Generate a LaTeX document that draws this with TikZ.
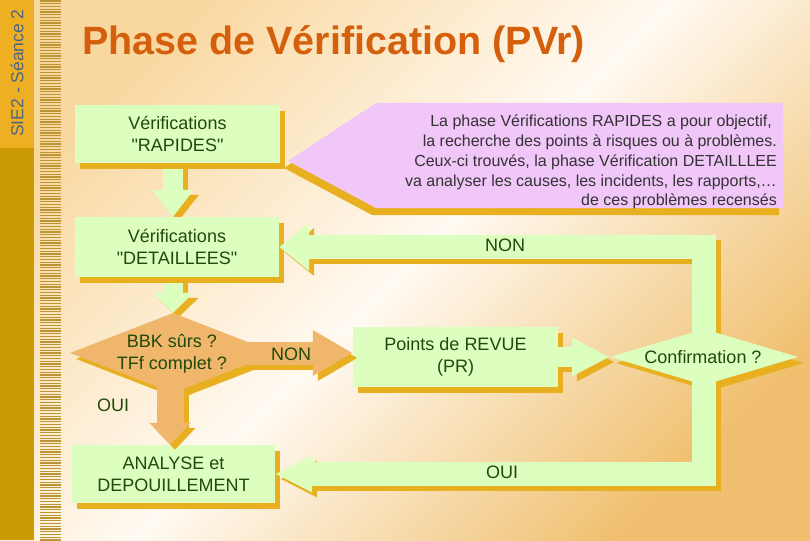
\documentclass[tikz,border=0pt]{standalone}
\usepackage{fontspec}
\setmainfont{Liberation Sans}[Ligatures=TeXOff]
\usetikzlibrary{arrows.meta,shapes.geometric,shadows}
\pgfdeclarelayer{lzero}
\pgfdeclarelayer{lone}
\pgfdeclarelayer{ltwo}
\pgfdeclarelayer{lthree}
\pgfdeclarelayer{lfour}
\pgfsetlayers{lzero,lone,ltwo,lthree,lfour,main}
\definecolor{gold}{HTML}{E8B020}
\definecolor{boxgreen}{HTML}{DCFEBE}
\definecolor{txtgreen}{HTML}{1F4A0C}
\definecolor{orng}{HTML}{EFB66C}
\definecolor{pinkc}{HTML}{F1C6F9}
\definecolor{titlec}{HTML}{D4600E}
\definecolor{barlight}{HTML}{EEB022}
\definecolor{bardark}{HTML}{CC9A04}
\definecolor{bartext}{HTML}{4E6584}
\definecolor{stripec}{HTML}{BC9434}
\definecolor{bgA}{HTML}{F9D8A0}
\definecolor{bgM}{HTML}{FFFAF2}
\definecolor{bgB}{HTML}{F0C070}
\definecolor{notegray}{HTML}{333333}
\newcommand\shpath[2]{%
  \draw[#1,color=gold,transform canvas={shift={(5pt,-5pt)}}] #2;%
  \draw[#1] #2;}
\begin{document}
\begin{tikzpicture}[x=1pt,y=-1pt,
  bx/.style={rectangle, fill=boxgreen, inner sep=0pt, text=txtgreen,
    font={\fontsize{18pt}{22pt}\selectfont}, align=center,
    general shadow={fill=gold, shadow xshift=5pt, shadow yshift=-6pt}},
  dia/.style={diamond, inner sep=0pt},
  lbl/.style={inner sep=0pt, text=txtgreen, font={\fontsize{18pt}{22pt}\selectfont}, align=center},
  garr/.style={color=boxgreen, line cap=butt, line join=miter},
  oarr/.style={color=orng, line cap=butt, line join=miter}]
\useasboundingbox (0,0) rectangle (810,540);
% ---------- background layer ----------
\begin{pgfonlayer}{lzero}
\shade[top color=bgA, bottom color=bgB, middle color=bgM, shading angle=45] (0,0) rectangle (810,540);
\fill[bardark] (0,0) rectangle (34,540);
\fill[barlight] (0,0) rectangle (34,148);
\foreach \i in {0,...,196} \draw[stripec, line width=1.3pt] (40,{\i*2.75+1}) -- (61,{\i*2.75+1});
\node[rotate=90, text=bartext, inner sep=0pt, font={\fontsize{17.5pt}{20pt}\selectfont}] (side) at (17,73) {SIE2 - Séance 2};
\node[anchor=base west, inner sep=0pt, text=titlec, font={\fontsize{39.5pt}{44pt}\selectfont\bfseries}] (title) at (82,55) {Phase de Vérification (PVr)};
\fill[gold] (284,168) -- (372,110) -- (779,110) -- (779,215) -- (372,215) -- cycle;
\fill[pinkc] (288,161) -- (376,103) -- (783,103) -- (783,208) -- (376,208) -- cycle;
\node[anchor=east, inner sep=0pt, align=right, text=notegray, font={\fontsize{16pt}{19.8pt}\selectfont}] (note) at (777,162)
 {La phase Vérifications RAPIDES a pour objectif,\hspace*{5pt}\\
  la recherche des points à risques ou à problèmes.\\
  Ceux-ci trouvés, la phase Vérification DETAILLLEE\\
  va analyser les causes, les incidents, les rapports,…\\
  de ces problèmes recensés};
\end{pgfonlayer}
% ---------- nodes ----------
\begin{pgfonlayer}{ltwo}
\node[bx, minimum width=205pt, minimum height=58pt] (r1) at (177.5,134) {Vérifications\\"RAPIDES"};
\node[bx, minimum width=204pt, minimum height=60pt] (r2) at (177,247) {Vérifications\\"DETAILLEES"};
\node[bx, minimum width=203pt, minimum height=58pt] (an) at (173.5,474) {ANALYSE et\\DEPOUILLEMENT};
\node[dia, fill=gold, minimum width=206pt, minimum height=80pt] (d1s) at (179,359) {};
\node[dia, fill=gold, minimum width=188pt, minimum height=56pt] (cfs) at (710,363) {};
\end{pgfonlayer}
\begin{pgfonlayer}{lthree}
\node[bx, minimum width=205pt, minimum height=60pt] (pr) at (455.5,357) {Points de REVUE\\(PR)};
\end{pgfonlayer}
\begin{pgfonlayer}{lfour}
\node[dia, fill=orng, minimum width=206pt, minimum height=80pt] (d1) at (173,353) {};
\node[dia, fill=boxgreen, minimum width=188pt, minimum height=56pt] (cf) at (704,357) {};
\end{pgfonlayer}
% ---------- connectors ----------
\begin{pgfonlayer}{lone}
\shpath{garr, line width=20pt, -{Triangle[length=27pt 0 1,width=40pt 0 1]}}{(d1.north |- r1.south) -- (d1.north |- r2.north)}
\shpath{garr, line width=20pt, -{Triangle[length=20pt 0 1,width=40pt 0 1]}}{(d1.north |- r2.south) -- (d1.north)}
\end{pgfonlayer}
\begin{pgfonlayer}{lthree}
\shpath{oarr, line width=27pt, -{Triangle[length=22pt 0 1,width=40pt 0 1]}}{([xshift=-3pt]d1.center) -- ([xshift=-3pt]d1.center |- an.north)}
\shpath{oarr, line width=23pt, -{Triangle[length=40pt 0 1,width=43pt 0 1]}}{(d1.center) -- (d1.center -| pr.west)}
\shpath{garr, line width=20pt, -{Triangle[length=38pt 0 1,width=36pt 0 1]}}{(pr.east) -- (cf.west)}
\shpath{garr, line width=24pt, -{Triangle[length=30pt 0 1,width=46pt 0 1]}}{(cf.center) |- (r2.east)}
\shpath{garr, line width=24pt, -{Triangle[length=37pt 0 1,width=34pt 0 1]}}{(cf.center) |- (an.east)}
\end{pgfonlayer}
% ---------- labels ----------
\node[lbl] (d1t) at (172,353.5) {BBK sûrs ?\\TFf complet ?};
\node[lbl] (cft) at (703,357) {Confirmation ?};
\node[lbl] (n1) at (291,354) {NON};
\node[lbl] (o1) at (113,405) {OUI};
\node[lbl] (n2) at (505,245) {NON};
\node[lbl] (o2) at (502,472) {OUI};
\end{tikzpicture}
\end{document}
